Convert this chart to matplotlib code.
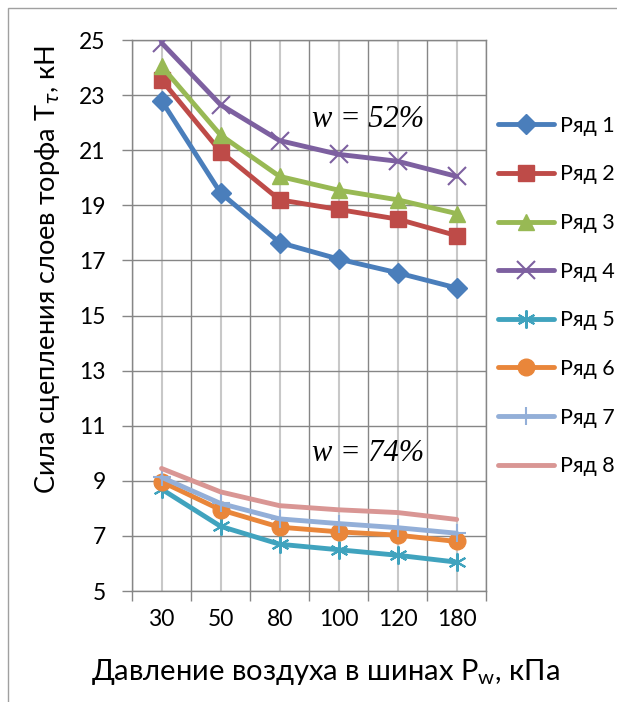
import matplotlib
matplotlib.use("Agg")
import matplotlib.pyplot as plt
from matplotlib.patches import Rectangle

plt.rcParams['font.family'] = ['Lato', 'Open Sans', 'DejaVu Sans']

categories = ["30", "50", "80", "100", "120", "180"]
series_names = ["Ряд 1", "Ряд 2", "Ряд 3", "Ряд 4", "Ряд 5", "Ряд 6", "Ряд 7", "Ряд 8"]
s1 = [22.8, 19.45, 17.65, 17.05, 16.55, 16.0]
s2 = [23.55, 20.95, 19.2, 18.85, 18.5, 17.9]
s3 = [24.05, 21.55, 20.05, 19.55, 19.2, 18.7]
s4 = [24.9, 22.65, 21.35, 20.85, 20.6, 20.05]
s5 = [8.7, 7.35, 6.7, 6.5, 6.3, 6.05]
s6 = [8.97, 7.95, 7.32, 7.15, 7.03, 6.8]
s7 = [9.13, 8.18, 7.62, 7.45, 7.3, 7.1]
s8 = [9.45, 8.6, 8.1, 7.95, 7.85, 7.6]
values = [s1, s2, s3, s4, s5, s6, s7, s8]
y_ticks = [5, 7, 9, 11, 13, 15, 17, 19, 21, 23, 25]

colors = ["#4A7EBB", "#BE4B48", "#98B954", "#7D60A0", "#40A3BE", "#E9863A", "#93AFD8", "#D99694"]
markers = ["D", "s", "^", "x", (6, 2, 0), "o", "+", None]
msizes = [10, 11, 12, 13, 13, 12, 13, 0]

fig = plt.figure(figsize=(6.17, 7.02), dpi=100)
ax = fig.add_axes([0.214, 0.158, 0.574, 0.785])

x = list(range(len(categories)))
for name, vals, c, m, ms in zip(series_names, values, colors, markers, msizes):
    ax.plot(x, vals, color=c, lw=3.5, marker=m, markersize=ms,
            markeredgecolor=c, markerfacecolor=c,
            markeredgewidth=1.5 if m in ("x", "+", (6, 2, 0)) else 1,
            label=name, solid_capstyle='round', solid_joinstyle='round', zorder=3)

ax.set_xlim(-0.5, len(categories) - 0.5)
ax.set_ylim(5, 25)
ax.set_yticks(y_ticks)
ax.set_yticklabels([str(v) for v in y_ticks], fontsize=16.5)
ax.set_xticks(x)
ax.set_xticklabels(categories, fontsize=16.5)
ax.set_xticks([i - 0.5 for i in range(len(categories) + 1)], minor=True)

ax.tick_params(axis='x', which='major', length=0, pad=13)
ax.tick_params(axis='x', which='minor', length=7, color="#868686", width=1)
ax.tick_params(axis='y', which='major', length=7, color="#868686", width=1, pad=12)

ax.grid(True, axis='y', which='major', color="#868686", lw=1, zorder=1)
ax.grid(True, axis='x', which='major', color="#C8C8C8", lw=1.5, zorder=1)
ax.grid(True, axis='x', which='minor', color="#868686", lw=1, zorder=1)
for s in ax.spines.values():
    s.set_color("#868686")
    s.set_linewidth(1)

ax.text(3.5, 22.1, "w = 52%", fontsize=22, family="Liberation Serif", style="italic", ha="center", va="center")
ax.text(3.5, 10.0, "w = 74%", fontsize=22, family="Liberation Serif", style="italic", ha="center", va="center")

ylab = ax.set_ylabel(r"Сила сцепления слоев торфа T$_\tau$, кН", fontsize=19.5)
ylab.set_va("center")
ax.yaxis.set_label_coords(-0.24, 0.584)
xlab = ax.set_xlabel(r"Давление воздуха в шинах P$_\mathregular{w}$, кПа", fontsize=21)
xlab.set_va("center")
ax.xaxis.set_label_coords(0.545, -0.147)

leg = ax.legend(loc="upper left", bbox_to_anchor=(1.01, 0.878), frameon=False, fontsize=15.5,
                handlelength=2.6, labelspacing=1.33, handletextpad=0.25, borderaxespad=0)

fig.patches.append(Rectangle((8 / 617, -0.01), 1.0, 1 - 8 / 702 + 0.01, transform=fig.transFigure,
                             fill=False, edgecolor="#A0A0A0", lw=1))

fig.savefig("out.png", dpi=100)
